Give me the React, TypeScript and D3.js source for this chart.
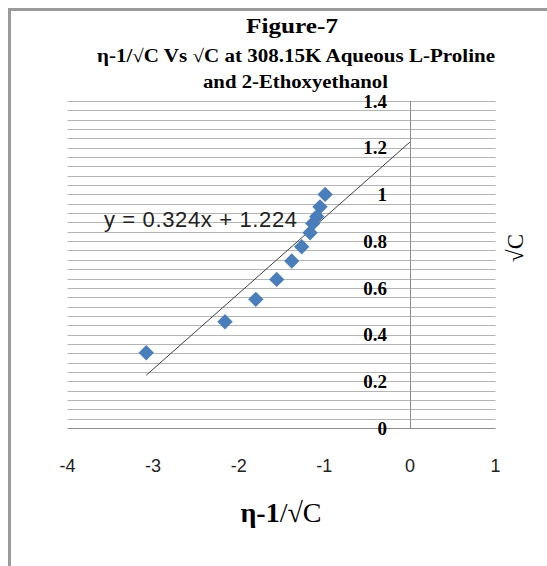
import React from "react";
import * as d3 from "d3";

const WIDTH = 547;
const HEIGHT = 566;

// data: x = η-1/√C, y = √C
const etaValues = [-3.08, -2.16, -1.8, -1.556, -1.38, -1.264, -1.166, -1.135, -1.088, -1.05, -0.99];
const sqrtCValues = [0.322, 0.455, 0.551, 0.636, 0.715, 0.776, 0.836, 0.876, 0.905, 0.947, 1.0];
const xTicks = [-4, -3, -2, -1, 0, 1];
const yTicks = [0, 0.2, 0.4, 0.6, 0.8, 1, 1.2, 1.4];
const trendSlope = 0.324;
const trendIntercept = 1.224;
const titleLines = ["Figure-7", "η-1/√C Vs √C at 308.15K Aqueous L-Proline", "and 2-Ethoxyethanol"];

const PLOT = { left: 67.5, right: 495.5, top: 101, bottom: 428 };
const SERIF = "'Liberation Serif', 'Times New Roman', serif";
const SANS = "'Liberation Sans', Arial, sans-serif";

const App = () => {
  const xScale = d3.scaleLinear().domain([-4, 1]).range([PLOT.left, PLOT.right]);
  const yScale = d3.scaleLinear().domain([0, 1.4]).range([PLOT.bottom, PLOT.top]);

  const minorGrid = d3.range(0, 36).map((i) => +(i * 0.04).toFixed(2));

  const points = etaValues.map((x, i) => ({ x, y: sqrtCValues[i] }));
  const trendX = [d3.min(etaValues), 0];
  const trendLine = d3
    .line()
    .x((d) => xScale(d))
    .y((d) => yScale(trendSlope * d + trendIntercept));

  const diamond = d3.symbol().type(d3.symbolDiamond2 ?? d3.symbolDiamond).size(150)();

  return (
    <svg
      width={WIDTH}
      height={HEIGHT}
      style={{ position: "absolute", left: 0, top: 0, background: "#fff" }}
    >
      {/* chart frame */}
      <line x1={9.5} x2={9.5} y1={9} y2={HEIGHT} stroke="#9a9a9a" strokeWidth={3} />
      <line x1={8} x2={WIDTH} y1={9.5} y2={9.5} stroke="#9a9a9a" strokeWidth={3} />

      {/* title */}
      <text x={246} y={33} fontFamily={SERIF} fontWeight="bold" fontSize={20} textLength={92} lengthAdjust="spacingAndGlyphs">
        {titleLines[0]}
      </text>
      <text x={97} y={62} fontFamily={SERIF} fontWeight="bold" fontSize={18} textLength={398} lengthAdjust="spacingAndGlyphs">
        {titleLines[1]}
      </text>
      <text x={203} y={88} fontFamily={SERIF} fontWeight="bold" fontSize={18} textLength={185} lengthAdjust="spacingAndGlyphs">
        {titleLines[2]}
      </text>

      {/* gridlines */}
      {minorGrid.map((v) => (
        <line
          key={v}
          x1={PLOT.left}
          x2={PLOT.right}
          y1={Math.round(yScale(v)) + 0.5}
          y2={Math.round(yScale(v)) + 0.5}
          stroke={v === 0 ? "#8c8c8c" : "#b4b4b4"}
          strokeWidth={1}
        />
      ))}

      {/* vertical axis at x = 0 */}
      <line
        x1={Math.round(xScale(0)) + 0.5}
        x2={Math.round(xScale(0)) + 0.5}
        y1={yScale(1.4)}
        y2={yScale(0)}
        stroke="#8c8c8c"
        strokeWidth={1}
      />

      {/* y tick labels */}
      {yTicks.map((t) => (
        <text
          key={t}
          x={387}
          y={yScale(t)}
          dy="0.35em"
          textAnchor="end"
          fontFamily={SERIF}
          fontWeight="bold"
          fontSize={19}
        >
          {d3.format("~g")(t)}
        </text>
      ))}

      {/* x tick labels */}
      {xTicks.map((t) => (
        <text key={t} x={xScale(t)} y={472} textAnchor="middle" fontFamily={SANS} fontSize={18} fill="#222">
          {t}
        </text>
      ))}

      {/* trendline */}
      <path d={trendLine(trendX)} fill="none" stroke="#404040" strokeWidth={1} />

      {/* markers */}
      {points.map((p, i) => (
        <path
          key={i}
          d={diamond}
          transform={`translate(${xScale(p.x)},${yScale(p.y)})`}
          fill="#4a7ebb"
        />
      ))}

      {/* equation label */}
      <text x={104} y={227} fontFamily={SANS} fontSize={22} fill="#222" textLength={193} lengthAdjust="spacing">
        y = 0.324x + 1.224
      </text>

      {/* axis titles */}
      <text x={281} y={522} textAnchor="middle" fontFamily={SERIF} fontSize={28}>
        <tspan fontWeight="bold">η-1</tspan>
        <tspan>/√C</tspan>
      </text>
      <text
        transform={`translate(515,248) rotate(-90)`}
        textAnchor="middle"
        dy="0.35em"
        fontFamily={SERIF}
        fontSize={23}
      >
        √C
      </text>
    </svg>
  );
};

export default App;
